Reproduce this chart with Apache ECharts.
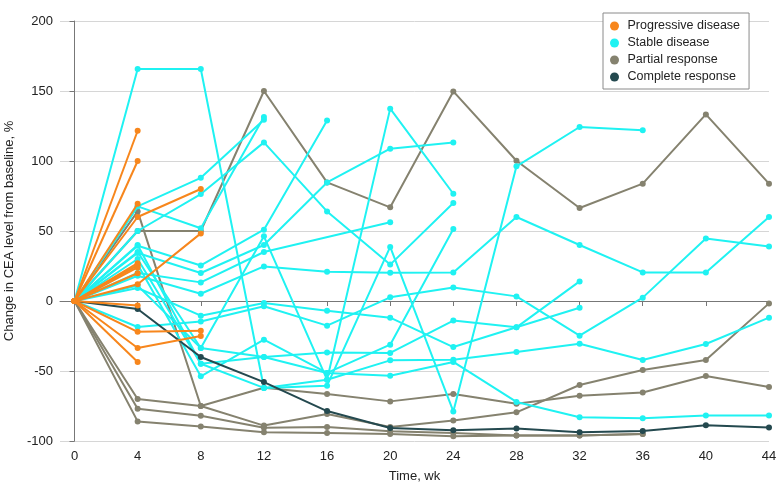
<!DOCTYPE html>
<html>
<head>
<meta charset="utf-8">
<script src="https://cdn.jsdelivr.net/npm/echarts@6/dist/echarts.min.js"></script>
<style>
html,body{margin:0;padding:0;background:#fff;}
#c{width:780px;height:497px;}
</style>
</head>
<body>
<div id="c"></div>
<script>
// ---- data ----
const weeks = [0, 4, 8, 12, 16, 20, 24, 28, 32, 36, 40, 44];
const xTicks = [0, 4, 8, 12, 16, 20, 24, 28, 32, 36, 40, 44];
const categories = ['Progressive disease', 'Stable disease', 'Partial response', 'Complete response'];

// each row: values at weeks 0..44 (null = no measurement at that visit)
const progressive = [
  [0, 121.6],
  [0, 100],
  [0, 69.5],
  [0, 60, 80],
  [0, 12, 48.3],
  [0, 27],
  [0, 25.5],
  [0, 24],
  [0, 19.8],
  [0, -3.3],
  [0, -22, -21.2],
  [0, -33.6, -25],
  [0, -43.6]
];
const stable = [
  [0, 165.7, 165.7, -62.1, -60.5, 38.6, -78.9, 96.2, 124.3, 121.9],
  [0, 67.6, 88, 129.5],
  [0, 67.6, 52, 131.4],
  [0, 50, 76.4, 113.3, 64, 26, 70],
  [0, 39.5, 25.4, 50.9, 129],
  [0, 34.3, 20, 40, 84.7, 108.8, 113.3],
  [0, 20, 13.3, 35, null, 56.2],
  [0, 18, 5.2, 24.7, 20.9, 20.2, 20.4, 60, 40, 20.4, 20.4, 60],
  [0, 9.3, -10.5, -1.4, -6.9, -11.9, -32.9, -18.8, 14],
  [0, -18.6, -14.6, -3.8, -17.6, 2.6, 9.7, 3.3, -24.8, 2.4, 44.7, 39],
  [0, 35, -33.6, 46.2, -56.2, 137.4, 76.6],
  [0, 40, -44.8, -40, -36.7, -37.1, -14, -18.8, -4.8],
  [0, 26, -53.8, -27.6, -51.4, -53.4, -43.5, -72.1, -83.1, -83.8, -81.7, -81.7],
  [0, 30, -44.8, -62.1, -56.2, -42.4, -41.9, -36.4, -30.5, -42.1, -30.7, -11.9],
  [0, 11, -33.6, -40, -51.4, -31.2, 51.4]
];
const partial = [
  [0, 50, 50, 150, 84.7, 66.9, 149.7, 100.2, 66.4, 83.8, 133.3, 83.8],
  [0, 64, -75, -62, -66.4, -71.7, -66.4, -73.4, -67.6, -65.3, -53.6, -61.4],
  [0, -70, -75, -89, -80.7, -90, -85.3, -79.5, -60, -49.3, -42.2, -1.7],
  [0, -77, -82, -90.5, -90, -93, -94.3, -96, -96, -95],
  [0, -86, -89.6, -93.8, -94.3, -95, -96.6, -96, -96, -95]
];
const complete = [
  [0, -5.7, -40, -57.9, -78.6, -90.7, -92.4, -91, -93.8, -92.9, -88.8, -90.3]
];

const colors = {
  'Progressive disease': '#f7861c',
  'Stable disease': '#1ff2f2',
  'Partial response': '#85826f',
  'Complete response': '#24494f'
};

function toPairs(row) {
  const out = [];
  row.forEach((v, i) => { if (v !== null && v !== undefined) out.push([weeks[i], v]); });
  return out;
}
function makeSeries(rows, name, z) {
  return rows.map(r => ({
    type: 'line', name: name, data: toPairs(r), z: z,
    symbol: 'circle', symbolSize: 6, showSymbol: true,
    lineStyle: { width: 2, color: colors[name] },
    itemStyle: { color: colors[name] },
    emphasis: { disabled: true }, animation: false
  }));
}

const series = [].concat(
  makeSeries(partial, 'Partial response', 2),
  makeSeries(stable, 'Stable disease', 3),
  makeSeries(complete, 'Complete response', 4),
  makeSeries(progressive, 'Progressive disease', 5)
);

const chart = echarts.init(document.getElementById('c'), null, { renderer: 'canvas' });
const fontFam = "'Liberation Sans', Arial, sans-serif";
chart.setOption({
  animation: false,
  grid: { left: 60, right: 11, top: 21, bottom: 56, containLabel: false, outerBoundsMode: 'none' },
  legend: {
    data: categories,
    orient: 'vertical', left: 603, top: 13,
    icon: 'circle', itemWidth: 16, itemHeight: 9, itemGap: 3,
    padding: [6, 9, 5, 7],
    backgroundColor: '#fff', borderColor: '#8a8a8a', borderWidth: 1,
    textStyle: { fontFamily: fontFam, fontSize: 12.5, lineHeight: 14, color: '#222' }
  },
  xAxis: {
    type: 'value', min: -0.92, max: 44,
    name: 'Time, wk', nameLocation: 'middle', nameGap: 29,
    nameTextStyle: { fontFamily: fontFam, fontSize: 13, color: '#222' },
    axisLine: { lineStyle: { color: '#777', width: 1 } },
    axisTick: { show: true, customValues: xTicks, length: 5, lineStyle: { color: '#777' } },
    axisLabel: { customValues: xTicks, fontFamily: fontFam, fontSize: 13, color: '#222', margin: 9 },
    splitLine: { show: false }
  },
  yAxis: {
    type: 'value', min: -100, max: 200, interval: 50,
    name: 'Change in CEA level from baseline, %', nameLocation: 'middle', nameGap: 41,
    nameTextStyle: { fontFamily: fontFam, fontSize: 13, color: '#222' },
    axisLine: { show: true, lineStyle: { color: '#777', width: 1 } },
    axisTick: { show: true, length: 5, lineStyle: { color: '#777' } },
    axisLabel: { fontFamily: fontFam, fontSize: 13, color: '#222', margin: 7 },
    splitLine: { show: true, lineStyle: { color: '#d6d6d6', width: 1 } }
  },
  series: series
});
</script>
</body>
</html>
